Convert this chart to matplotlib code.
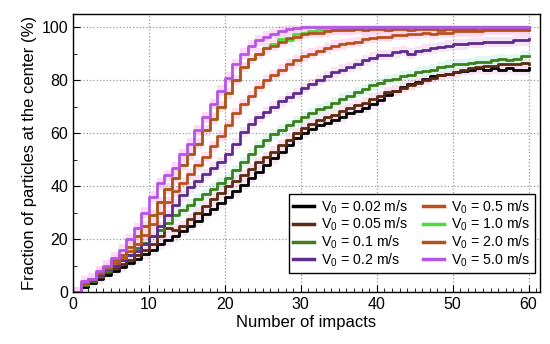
import numpy as np
import matplotlib.pyplot as plt
from matplotlib.ticker import MultipleLocator

plt.rcParams['font.family'] = ['Liberation Sans', 'DejaVu Sans']

impacts = np.arange(0, 61)

v002 = [0, 2, 3.5, 5, 6.5, 8, 9.5, 11, 12.5, 14.5, 16, 18, 19.5, 21, 23, 25, 27, 29.5, 31.5, 33.5,
        36, 38, 40.5, 43, 45.5, 48, 50.5, 53, 55.5, 58, 60, 61.5, 63, 64, 65, 66, 67.5, 68.5, 69.5, 71,
        72.5, 74.5, 76, 77.5, 78.5, 79.5, 80.5, 81.5, 82, 82.5, 83, 83.5, 84, 84.5, 84, 84.5, 84, 84.5, 84, 84, 84.5]
v005 = [0, 2.5, 4, 5.5, 7.5, 9, 10.5, 12, 14, 16, 18, 21, 24, 23.5, 25, 27.5, 30, 32.5, 35, 37.5,
        40, 42, 44, 46.5, 49, 51, 53, 55.5, 57.5, 60, 62, 63.5, 65, 66, 67, 68.5, 69.5, 70.5, 71.5, 73,
        74, 75.5, 76, 77, 78, 79, 80, 81, 82, 82.5, 83, 84, 84.5, 85, 85.5, 85.5, 86, 86, 86, 86.5, 86]
v01 = [0, 2.5, 4, 6, 8, 10, 12, 14, 16.5, 18.5, 21, 23.5, 26, 29, 31, 33, 35, 37, 39, 41,
       43, 46, 49, 52, 55, 57.5, 59.5, 61, 63, 64.5, 66, 67.5, 69, 70, 71.5, 73, 74, 75.5, 76.5, 78,
       79, 80, 80.5, 81.5, 82, 83, 83.5, 84, 85, 85.5, 86, 86, 86.5, 87, 87, 87.5, 88, 87.5, 88, 89, 89]
v02 = [0, 3, 4.5, 6.5, 8.5, 10, 12, 14, 15.5, 18, 21, 25, 29, 33, 36.5, 39.5, 42, 44.5, 47, 49,
       52, 56, 60.5, 63.5, 66, 68, 70, 72, 73.5, 75, 77, 78.5, 80, 81.5, 83, 84, 85, 86, 87.5, 88.5,
       89.5, 89.5, 90.5, 91, 90, 91, 91.5, 92, 92.5, 93, 93.5, 93.5, 94, 94, 94.5, 94.5, 94.5, 94.5, 95, 95, 95.5]
v05 = [0, 3, 5, 7, 9, 11, 13, 15.5, 18, 21.5, 25.5, 30, 34, 38, 41, 44.5, 48, 51, 55, 59,
       63, 67.5, 71, 74, 77.5, 80, 82, 84, 86, 87.5, 89, 90, 91, 92, 93, 93.5, 94, 94.5, 95.5, 96,
       96.5, 96.5, 97, 97, 97.5, 97.5, 98, 97.5, 98, 98, 98.5, 98.5, 98.5, 98.5, 99, 99, 99, 99, 99, 99, 99]
v10 = [0, 3, 5, 7.5, 9.5, 12, 14, 17, 21, 25, 29, 34, 39, 43, 48, 52, 56, 61, 65.5, 70,
       75, 80, 85, 88, 90, 92, 93.5, 95.5, 95, 97.5, 98, 98.5, 99, 99, 99, 99.5, 99.5, 99.5, 100, 100,
       100, 100, 100, 100, 100, 100, 100, 100, 100, 100, 100, 100, 100, 100, 100, 100, 100, 100, 100, 100, 100]
v20 = [0, 3, 5, 7.5, 9.5, 12, 14, 17, 21, 25, 29, 34, 39, 43, 48, 52, 56, 61, 65.5, 70,
       75, 80, 85, 88, 90, 92, 93, 94.5, 96, 96.5, 97.5, 98, 98, 98.5, 99, 99, 99, 99.5, 99, 99.5,
       99.5, 99, 99.5, 99.5, 99, 99.5, 99.5, 99.5, 99, 99.5, 99.5, 99.5, 99.5, 99, 99.5, 99.5, 99.5, 99.5, 99.5, 99.5, 99.5]
v50 = [0, 4, 5, 8, 10, 13, 16, 20, 24, 30, 36, 41, 44, 47, 52, 56, 61, 66, 71, 76,
       81, 86, 90, 93, 95, 96.5, 97.5, 98.5, 99.3, 99.7, 100, 100, 100, 100, 100, 100, 100, 100, 100, 100,
       100, 100, 100, 100, 100, 100, 100, 100, 100, 100, 100, 100, 100, 100, 100, 100, 100, 100, 100, 100, 100]

labels = ['0.02', '0.05', '0.1', '0.2', '0.5', '1.0', '2.0', '5.0']
series = [v002, v005, v01, v02, v05, v10, v20, v50]
colors = ['#000000', '#5a2a12', '#3c7f1c', '#5c2d8c', '#b8501c', '#4cdc3a', '#b4521e', '#b455e8']
halos = ['#f4e4f0', '#f8dcec', '#d8f6ec', '#f4dcf2', '#ffd6ee', '#d4fae8', '#ffd6ee', '#ffd0f4']

fig = plt.figure(figsize=(5.5, 3.44), dpi=100)
ax = fig.add_axes([0.1327, 0.1512, 0.8491, 0.8081])

for y, lab, c, h in zip(series, labels, colors, halos):
    y = np.array(y)
    ax.fill_between(impacts, y - 2, np.minimum(y + 2, 101), step='post', color=h, lw=0, alpha=0.8)
for y, lab, c in zip(series, labels, colors):
    ax.plot(impacts, y, drawstyle='steps-post', color=c, lw=2.0,
            label='V$_\\mathregular{0}$ = ' + lab + ' m/s')

ax.set_xlim(0, 61.5)
ax.set_ylim(0, 105)
ax.xaxis.set_major_locator(MultipleLocator(10))
ax.xaxis.set_minor_locator(MultipleLocator(1))
ax.yaxis.set_major_locator(MultipleLocator(20))
ax.yaxis.set_minor_locator(MultipleLocator(10))
ax.tick_params(which='both', direction='in', labelsize=11.5)
ax.tick_params(which='major', length=5)
ax.tick_params(which='minor', length=3)
ax.grid(True, which='major', ls=':', color='#999999', lw=0.9)
for s in ax.spines.values():
    s.set_linewidth(1.0)

ax.set_xlabel('Number of impacts', fontsize=12, labelpad=2)
ax.set_ylabel('Fraction of particles at the center (%)', fontsize=12, labelpad=3)

leg = ax.legend(ncol=2, loc='lower right', bbox_to_anchor=(0.989, 0.068), fontsize=10.2,
                frameon=True, fancybox=False, edgecolor='black', framealpha=1,
                labelspacing=0.02, handlelength=1.5, handletextpad=0.5, columnspacing=1.0,
                borderpad=0.3, borderaxespad=0)
leg.get_frame().set_linewidth(1.0)
for line in leg.get_lines():
    line.set_linewidth(2.5)

fig.savefig('out.png', dpi=100)
